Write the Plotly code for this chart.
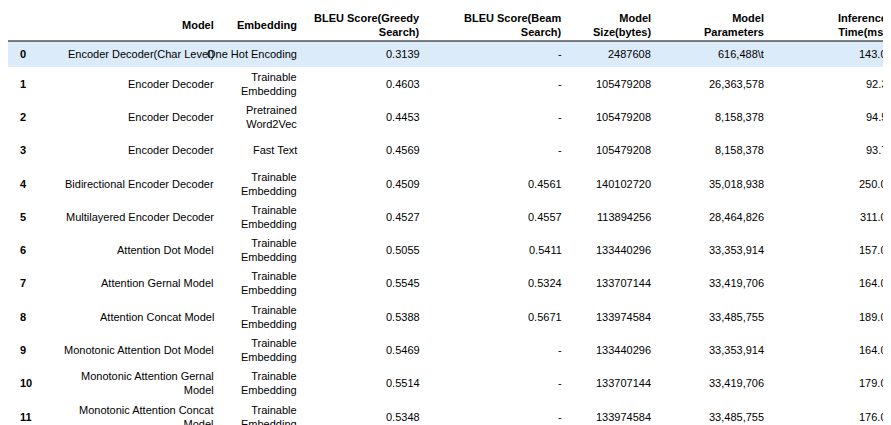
import plotly.graph_objects as go

idx = [str(i) for i in range(12)]
models = ["Encoder Decoder(Char Level)", "Encoder Decoder", "Encoder Decoder", "Encoder Decoder",
          "Bidirectional Encoder Decoder", "Multilayered Encoder Decoder", "Attention Dot Model",
          "Attention Gernal Model", "Attention Concat Model", "Monotonic Attention Dot Model",
          "Monotonic Attention Gernal<br>Model", "Monotonic Attention Concat<br>Model"]
embeddings = ["One Hot Encoding", "Trainable<br>Embedding", "Pretrained<br>Word2Vec", "Fast Text"] + \
             ["Trainable<br>Embedding"] * 8
bleu_greedy = ["0.3139", "0.4603", "0.4453", "0.4569", "0.4509", "0.4527", "0.5055", "0.5545",
               "0.5388", "0.5469", "0.5514", "0.5348"]
bleu_beam = ["-", "-", "-", "-", "0.4561", "0.4557", "0.5411", "0.5324", "0.5671", "-", "-", "-"]
model_size = ["2487608", "105479208", "105479208", "105479208", "140102720", "113894256",
              "133440296", "133707144", "133974584", "133440296", "133707144", "133974584"]
model_params = ["616,488\\t", "26,363,578", "8,158,378", "8,158,378", "35,018,938", "28,464,826",
                "33,353,914", "33,419,706", "33,485,755", "33,353,914", "33,419,706", "33,485,755"]
inference = ["143.0", "92.3", "94.5", "93.7", "250.0", "311.0", "157.0", "164.0", "189.0",
             "164.0", "179.0", "176.0"]

headers = ["Model", "Embedding", "BLEU Score(Greedy<br>Search)", "BLEU Score(Beam<br>Search)",
           "Model<br>Size(bytes)", "Model<br>Parameters", "Inference<br>Time(ms)"]
columns = [models, embeddings, bleu_greedy, bleu_beam, model_size, model_params, inference]

# layout in pixels
col_right = [208, 291, 414, 556, 645, 758, 881]
header_bottom = 33
row_h = [26] + [33.3] * 11
font = dict(family="Arial", size=11, color="black")

fig = go.Figure()
anns = []
for h, x in zip(headers, col_right):
    anns.append(dict(x=x, y=17, text="<b>%s</b>" % h, xanchor="right", align="right", font=font))

top = header_bottom
for r in range(len(idx)):
    yc = top + row_h[r] / 2
    if r == 0:
        fig.add_shape(type="rect", x0=0, x1=886, y0=top, y1=top + row_h[r],
                      fillcolor="#dcebf9", line_width=0, layer="below")
    anns.append(dict(x=10, y=yc, text="<b>%s</b>" % idx[r], xanchor="left", font=font))
    for col, x in zip(columns, col_right):
        anns.append(dict(x=x, y=yc, text=col[r], xanchor="right", align="right", font=font))
    top += row_h[r]

fig.add_shape(type="line", x0=0, x1=886, y0=header_bottom, y1=header_bottom,
              line=dict(color="black", width=1))
for a in anns:
    a.update(showarrow=False, xref="x", yref="y")
fig.update_layout(annotations=anns, width=891, height=425, margin=dict(l=0, r=0, t=0, b=0),
                  paper_bgcolor="white", plot_bgcolor="white", showlegend=False,
                  xaxis=dict(range=[0, 891], visible=False),
                  yaxis=dict(range=[425, 0], visible=False))
fig.write_html("out.html")
